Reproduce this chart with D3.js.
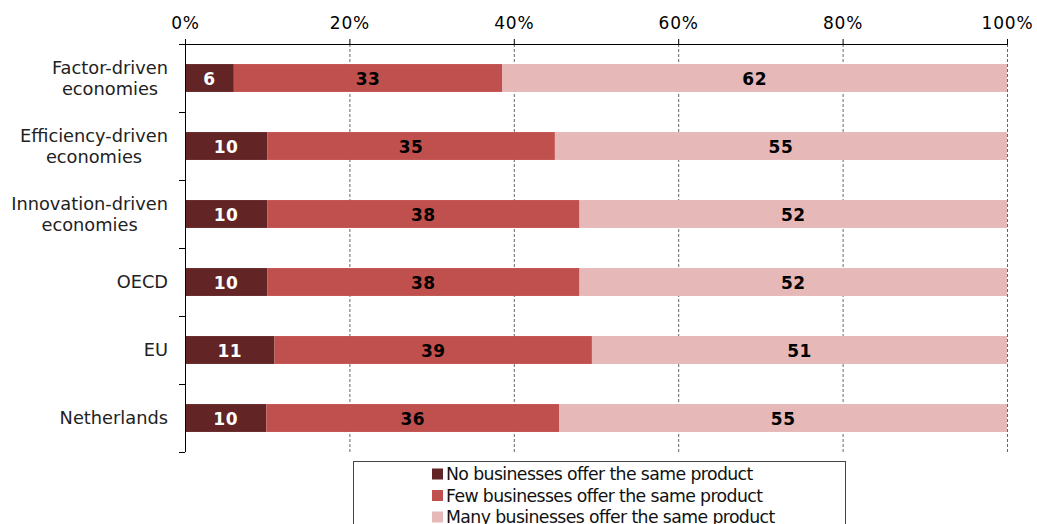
<!DOCTYPE html>
<html>
<head>
<meta charset="utf-8">
<script src="https://cdn.jsdelivr.net/npm/d3@7"></script>
<style>
  html, body { margin: 0; padding: 0; background: #fff; }
  svg { display: block; font-family: "DejaVu Sans", Verdana, sans-serif; }
</style>
</head>
<body>
<svg id="chart" width="1037" height="524"></svg>
<script>
// Economy groups, top to bottom
const categories = [
  "Factor-driven economies",
  "Efficiency-driven economies",
  "Innovation-driven economies",
  "OECD",
  "EU",
  "Netherlands"
];
const categoryLines = [
  ["Factor-driven", "economies"],
  ["Efficiency-driven", "economies"],
  ["Innovation-driven", "economies"],
  ["OECD"],
  ["EU"],
  ["Netherlands"]
];
// Share of respondents (%), per series
const seriesNames = [
  "No businesses offer the same product",
  "Few businesses offer the same product",
  "Many businesses offer the same product"
];
const noBusinesses   = [6, 10, 10, 10, 11, 10];
const fewBusinesses  = [33, 35, 38, 38, 39, 36];
const manyBusinesses = [62, 55, 52, 52, 51, 55];
const tickValues = [0, 0.2, 0.4, 0.6, 0.8, 1.0];

const colors = ["#622424", "#c0504d", "#e6b8b7"];
const labelColors = ["#ffffff", "#000000", "#000000"];

const rows = categories.map((c, i) => ({
  category: c,
  [seriesNames[0]]: noBusinesses[i],
  [seriesNames[1]]: fewBusinesses[i],
  [seriesNames[2]]: manyBusinesses[i]
}));

const svg = d3.select("#chart");
const margin = { top: 44, left: 185, right: 30, bottom: 72 };
const width = 1007 - margin.left;
const height = 452 - margin.top;

const g = svg.append("g").attr("transform", `translate(${margin.left},${margin.top})`);

const x = d3.scaleLinear().domain([0, 1]).range([0, width]);
const y = d3.scaleBand().domain(categories).range([0, height]).paddingInner(0.59).paddingOuter(0.295);

const stack = d3.stack().keys(seriesNames).offset(d3.stackOffsetExpand);
const stacked = stack(rows);

// dashed gridlines
g.append("g").selectAll("line")
  .data(tickValues.slice(1))
  .join("line")
  .attr("x1", d => x(d) + 0.5).attr("x2", d => x(d) + 0.5)
  .attr("y1", 0).attr("y2", height)
  .attr("stroke", "#666").attr("stroke-width", 1)
  .attr("stroke-dasharray", "3,2");

// bars
const layers = g.append("g").selectAll("g")
  .data(stacked)
  .join("g")
  .attr("fill", (d, i) => colors[i]);

layers.selectAll("rect")
  .data(d => d)
  .join("rect")
  .attr("x", d => x(d[0]))
  .attr("width", d => x(d[1]) - x(d[0]))
  .attr("y", d => y(d.data.category))
  .attr("height", y.bandwidth());

// value labels
stacked.forEach((layer, i) => {
  g.append("g").selectAll("text")
    .data(layer)
    .join("text")
    .attr("x", d => (x(d[0]) + x(d[1])) / 2)
    .attr("y", d => y(d.data.category) + y.bandwidth() / 2 + 1)
    .attr("dy", "0.36em")
    .attr("text-anchor", "middle")
    .attr("font-size", 17)
    .attr("font-weight", "bold")
    .attr("letter-spacing", 0.5)
    .attr("fill", labelColors[i])
    .text(d => d.data[layer.key]);
});

// top axis
const xAxis = d3.axisTop(x).tickValues(tickValues).tickFormat(d3.format(".0%")).tickSizeOuter(0).tickSize(5).tickPadding(10);
const xg = g.append("g").call(xAxis);
xg.select(".domain").attr("stroke", "#000");
xg.selectAll(".tick line").attr("stroke", "#000");
xg.selectAll("text").attr("font-size", 17).attr("letter-spacing", 0.8)
  .attr("fill", "#000").attr("font-family", "DejaVu Sans, Verdana, sans-serif");

// left axis with ticks at category boundaries
const boundaries = d3.range(categories.length + 1).map(i => i * height / categories.length);
const yg = g.append("g");
yg.append("line").attr("x1", 0).attr("x2", 0).attr("y1", 0).attr("y2", height)
  .attr("stroke", "#000").attr("shape-rendering", "crispEdges");
yg.selectAll("line.tk").data(boundaries).join("line").attr("class", "tk")
  .attr("x1", -6).attr("x2", 0).attr("y1", d => d).attr("y2", d => d)
  .attr("stroke", "#000").attr("shape-rendering", "crispEdges");

// category labels: block right-aligned to the axis, lines centred within the block
const labelRight = -17;
const lab = g.append("g").selectAll("text")
  .data(categories)
  .join("text")
  .attr("text-anchor", "middle")
  .attr("font-size", 17.8)
  .attr("fill", "#222");
lab.each(function(c, i) {
  const lines = categoryLines[i];
  const cy = y(c) + y.bandwidth() / 2;
  const lh = 21;
  const start = cy - (lines.length - 1) * lh / 2;
  const sel = d3.select(this);
  const spans = sel.selectAll("tspan").data(lines).join("tspan")
    .attr("y", (d, j) => start + j * lh)
    .attr("dy", "0.36em")
    .text(d => d);
  let maxW = 0;
  spans.each(function() { maxW = Math.max(maxW, this.getComputedTextLength()); });
  spans.attr("x", labelRight - maxW / 2);
});

// legend
const lgX = 353.5, lgY = 461.5, lgW = 492, lgH = 80;
const legend = svg.append("g");
legend.append("rect").attr("x", lgX).attr("y", lgY).attr("width", lgW).attr("height", lgH)
  .attr("fill", "#fff").attr("stroke", "#444");
const items = legend.selectAll("g.item").data(seriesNames).join("g").attr("class", "item")
  .attr("transform", (d, i) => `translate(432,${474 + i * 21.5})`);
items.append("rect").attr("x", 0).attr("y", -5.5).attr("width", 11).attr("height", 11)
  .attr("fill", (d, i) => colors[i]);
items.append("text").attr("x", 14).attr("dy", "0.36em").attr("font-size", 17.3)
  .attr("letter-spacing", -0.6).attr("fill", "#111").text(d => d);
</script>
</body>
</html>
